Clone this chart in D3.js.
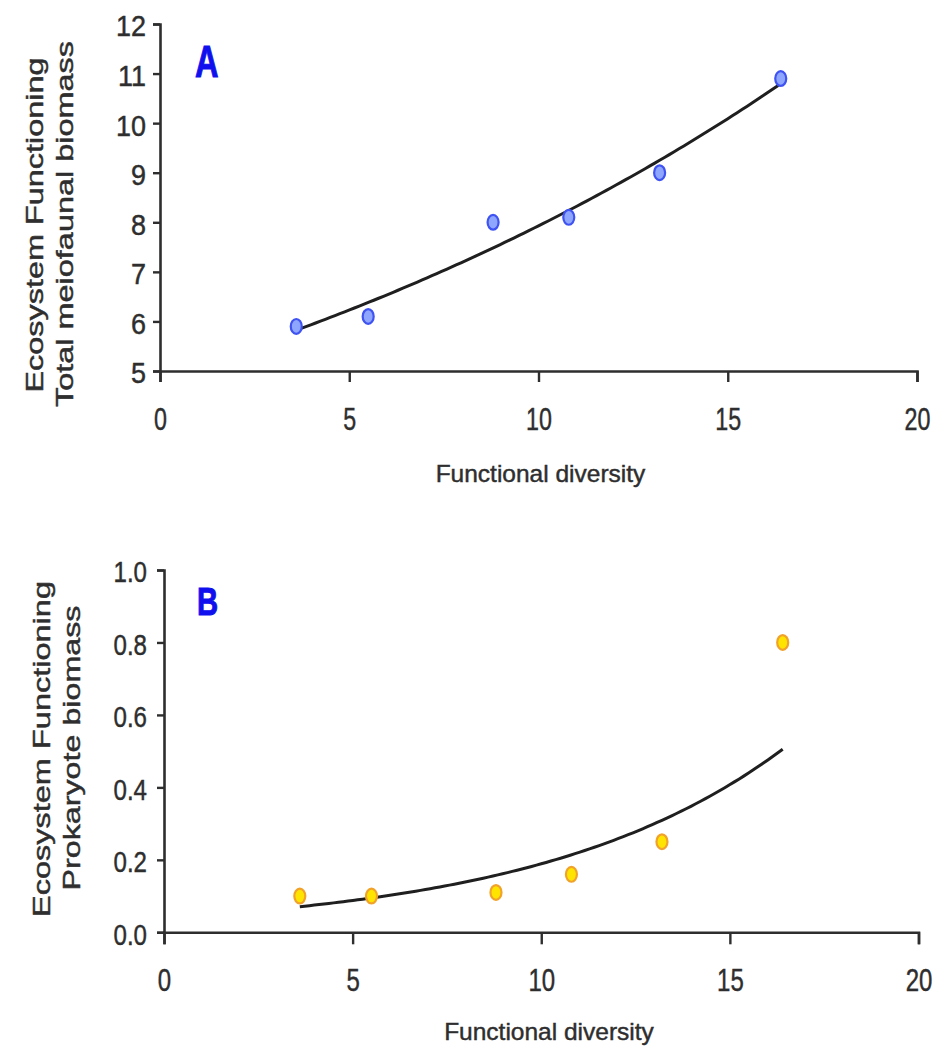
<!DOCTYPE html>
<html>
<head>
<meta charset="utf-8">
<script src="https://cdn.jsdelivr.net/npm/d3@7/dist/d3.min.js"></script>
<style>
  html, body { margin: 0; padding: 0; background: #fff; }
  svg { display: block; font-family: "Liberation Sans", Arial, sans-serif; }
  svg text { paint-order: stroke; stroke-width: 0.45px; }
</style>
</head>
<body>
<svg id="fig" width="950" height="1050"></svg>
<script>
// Functional diversity of each site (shared by both panels)
const functionalDiversity = [3.6, 5.5, 8.8, 10.8, 13.2, 16.4];
// Panel A: total meiofaunal biomass
const meiofaunalBiomass = [5.9, 6.1, 8.0, 8.1, 9.0, 10.9];
// Panel B: prokaryote biomass
const prokaryoteBiomass = [0.10, 0.10, 0.11, 0.16, 0.25, 0.80];

const xTicks = [0, 5, 10, 15, 20];
const yTicksA = [5, 6, 7, 8, 9, 10, 11, 12];
const yTicksB = [0.0, 0.2, 0.4, 0.6, 0.8, 1.0];

const svg = d3.select("#fig");
const ink = "#2e2e2e";

// Exponential trend y = a * exp(b x), fitted by least squares on ln(y)
function expFit(xs, ys) {
  const ly = ys.map(Math.log);
  const mx = d3.mean(xs), my = d3.mean(ly);
  let sxy = 0, sxx = 0;
  xs.forEach((x, i) => { sxy += (x - mx) * (ly[i] - my); sxx += (x - mx) ** 2; });
  const b = sxy / sxx;
  const a = Math.exp(my - b * mx);
  return x => a * Math.exp(b * x);
}

// Squeeze or stretch text along its own direction
function fitText(sel, factor) {
  sel.each(function () {
    const w = this.getComputedTextLength();
    d3.select(this).attr("textLength", w * factor).attr("lengthAdjust", "spacingAndGlyphs");
  });
}

function panel(cfg) {
  const x = d3.scaleLinear().domain([0, 20]).range([cfg.x0, cfg.x1]);
  const y = d3.scaleLinear().domain(cfg.yDomain).range([cfg.yBottom, cfg.yTop]);
  const g = svg.append("g");

  // x axis
  const gx = g.append("g")
    .attr("transform", `translate(0,${cfg.yBottom})`)
    .call(d3.axisBottom(x).tickValues(xTicks).tickSize(cfg.xTickSize).tickPadding(cfg.xTickPad)
      .tickFormat(d3.format("d")));
  // y axis
  const gy = g.append("g")
    .attr("transform", `translate(${cfg.x0},0)`)
    .call(d3.axisLeft(y).tickValues(cfg.yTicks).tickSize(7).tickPadding(cfg.yTickPad)
      .tickFormat(cfg.yFormat));

  [gx, gy].forEach(ax => {
    ax.select(".domain").attr("stroke", ink).attr("stroke-width", 2.6);
    ax.selectAll(".tick line").attr("stroke", ink).attr("stroke-width", 2.4);
    ax.selectAll(".tick text").attr("fill", ink).attr("stroke", ink)
      .attr("font-family", "Liberation Sans, Arial, sans-serif");
  });
  gx.selectAll(".tick text").attr("font-size", cfg.xTickFont).attr("dy", "0.71em");
  gy.selectAll(".tick text").attr("font-size", 29).attr("dy", "0.41em");
  fitText(gx.selectAll(".tick text"), 0.75);
  fitText(gy.selectAll(".tick text"), cfg.yTickSqueeze);

  // fitted exponential curve across the observed range
  const f = expFit(functionalDiversity, cfg.values);
  const [xmin, xmax] = d3.extent(functionalDiversity);
  const curve = d3.range(0, 101).map(i => xmin + (xmax - xmin) * i / 100);
  g.append("path")
    .datum(curve)
    .attr("fill", "none")
    .attr("stroke", "#1f1f1f")
    .attr("stroke-width", 3)
    .attr("d", d3.line().x(d => x(d)).y(d => y(f(d))));

  // observations
  g.selectAll("ellipse.pt")
    .data(functionalDiversity.map((d, i) => [d, cfg.values[i]]))
    .join("ellipse")
    .attr("class", "pt")
    .attr("cx", d => x(d[0]))
    .attr("cy", d => y(d[1]))
    .attr("rx", 5.5)
    .attr("ry", 7.4)
    .attr("fill", cfg.fill)
    .attr("stroke", cfg.stroke)
    .attr("stroke-width", 2.2);

  // panel letter
  const letter = g.append("text")
    .attr("x", cfg.letterX).attr("y", cfg.letterY)
    .attr("text-anchor", "middle")
    .attr("font-weight", "bold")
    .attr("font-size", cfg.letterFont)
    .attr("fill", "#1010ee")
    .attr("stroke", "#1010ee")
    .style("stroke-width", "1px")
    .text(cfg.letter);
  fitText(letter, 0.74);

  // x title
  g.append("text")
    .attr("x", cfg.xTitleX).attr("y", cfg.xTitleY)
    .attr("text-anchor", "middle")
    .attr("font-size", 24.5)
    .attr("fill", ink)
    .attr("stroke", ink)
    .text("Functional diversity");

  // two-line y title
  cfg.yTitle.forEach(t => {
    const tx = g.append("text")
      .attr("transform", `translate(${t.x},${t.y}) rotate(-90)`)
      .attr("text-anchor", "middle")
      .attr("font-size", 24.5)
      .attr("fill", ink)
      .attr("stroke", ink)
      .text(t.text);
    tx.attr("textLength", t.len).attr("lengthAdjust", "spacingAndGlyphs");
  });
}

panel({
  x0: 160, x1: 917, yTop: 24, yBottom: 371,
  yDomain: [5, 12], yTicks: yTicksA, yFormat: d3.format("d"),
  yTickPad: 7, yTickSqueeze: 0.93,
  xTickSize: 11, xTickPad: 26, xTickFont: 31,
  values: meiofaunalBiomass,
  fill: "#8ea6ff", stroke: "#3f52f2",
  letter: "A", letterX: 206.7, letterY: 76.5, letterFont: 44,
  xTitleX: 540.5, xTitleY: 481.5,
  yTitle: [
    { text: "Ecosystem Functioning", x: 42.5, y: 225, len: 335 },
    { text: "Total meiofaunal biomass", x: 73, y: 224, len: 366 }
  ]
});

panel({
  x0: 164, x1: 918.5, yTop: 570, yBottom: 932.3,
  yDomain: [0, 1], yTicks: yTicksB, yFormat: d3.format(".1f"),
  yTickPad: 10, yTickSqueeze: 0.83,
  xTickSize: 12, xTickPad: 24, xTickFont: 32,
  values: prokaryoteBiomass,
  fill: "#ffe400", stroke: "#f0a22a",
  letter: "B", letterX: 207.5, letterY: 614.5, letterFont: 39.5,
  xTitleX: 549, xTitleY: 1040,
  yTitle: [
    { text: "Ecosystem Functioning", x: 49.5, y: 749, len: 336 },
    { text: "Prokaryote biomass", x: 80, y: 748, len: 285 }
  ]
});
</script>
</body>
</html>
